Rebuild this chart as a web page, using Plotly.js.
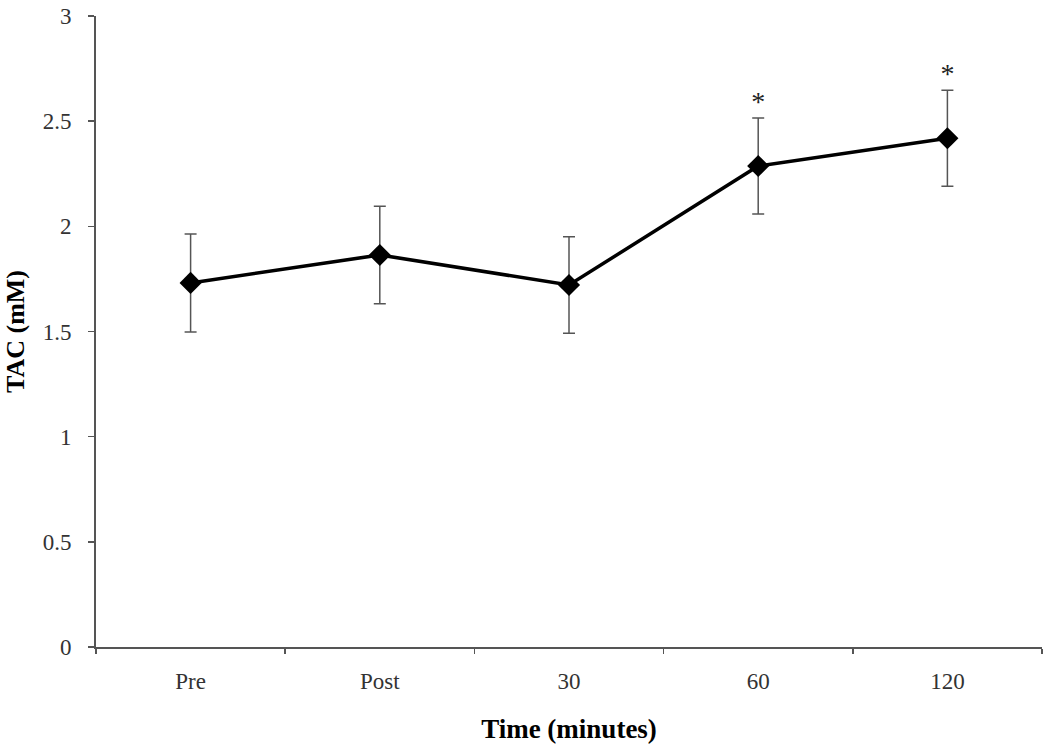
<!DOCTYPE html>
<html>
<head>
<meta charset="utf-8">
<script src="https://cdn.plot.ly/plotly-3.0.1.min.js"></script>
<style>html,body{margin:0;padding:0;background:#fff;}#chart{width:1050px;height:752px;}</style>
</head>
<body>
<div id="chart"></div>
<script>
const categories = ["Pre", "Post", "30", "60", "120"];
const tacValues = [1.731, 1.864, 1.721, 2.287, 2.419];
const tacErrors = [0.233, 0.232, 0.229, 0.228, 0.228];
const significant = [false, false, false, true, true];
const yTicks = [0, 0.5, 1, 1.5, 2, 2.5, 3];
const yTickLabels = ["0", "0.5", "1", "1.5", "2", "2.5", "3"];

const serif = "Liberation Serif";

const trace = {
  x: categories,
  y: tacValues,
  type: "scatter",
  mode: "lines+markers",
  line: {color: "#000", width: 3.5},
  marker: {symbol: "diamond", size: 17, color: "#000"},
  error_y: {type: "data", array: tacErrors, visible: true, color: "#555", thickness: 1.5, width: 6},
  showlegend: false,
  hoverinfo: "skip"
};

const sigX = categories.filter((c, i) => significant[i]);
const sigY = tacValues.map((v, i) => v + tacErrors[i]).filter((v, i) => significant[i]);
const stars = {
  x: sigX,
  y: sigY,
  type: "scatter",
  mode: "text",
  text: sigX.map(() => "*"),
  textposition: "top center",
  textfont: {family: serif, size: 28, color: "#222"},
  showlegend: false,
  hoverinfo: "skip"
};

const layout = {
  width: 1050, height: 752,
  margin: {l: 96, r: 8, t: 16, b: 105},
  paper_bgcolor: "#fff", plot_bgcolor: "#fff",
  xaxis: {
    type: "category",
    tickson: "boundaries",
    ticks: "outside", ticklen: 5, tickwidth: 1.5, tickcolor: "#555",
    showline: true, linecolor: "#555", linewidth: 2,
    showgrid: false, zeroline: false,
    ticklabelstandoff: 12,
    tickfont: {family: serif, size: 23, color: "#333"},
    title: {text: "<b>Time (minutes)</b>", font: {family: serif, size: 27, color: "#000"}, standoff: 27},
    range: [-0.5, 4.5]
  },
  yaxis: {
    range: [0, 3],
    tickvals: yTicks, ticktext: yTickLabels,
    ticks: "outside", ticklen: 6, tickwidth: 1.5, tickcolor: "#555",
    showline: true, linecolor: "#555", linewidth: 2,
    showgrid: false, zeroline: false,
    ticklabelstandoff: 12,
    tickfont: {family: serif, size: 23, color: "#333"},
    title: {text: "<b>TAC (mM)</b>", font: {family: serif, size: 26, color: "#000"}, standoff: 11}
  }
};

Plotly.newPlot("chart", [trace, stars], layout, {displayModeBar: false, staticPlot: true});
</script>
</body>
</html>
